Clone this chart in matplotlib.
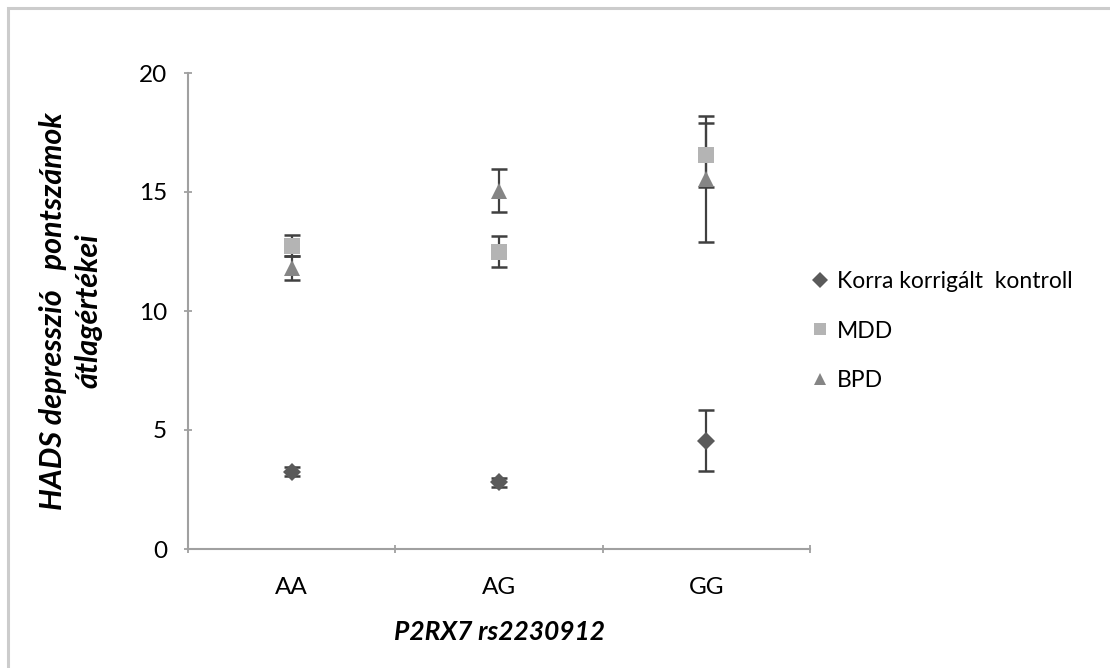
import matplotlib
matplotlib.use("Agg")
import matplotlib.pyplot as plt
from matplotlib.patches import Rectangle

categories = ["AA", "AG", "GG"]
series_names = ["Korra korrigált  kontroll", "MDD", "BPD"]
control_mean = [3.25, 2.8, 4.55]
control_err = [0.2, 0.2, 1.28]
mdd_mean = [12.75, 12.5, 16.55]
mdd_err = [0.45, 0.65, 1.35]
bpd_mean = [11.8, 15.05, 15.55]
bpd_err = [0.5, 0.9, 2.65]
yticks = [0, 5, 10, 15, 20]

font = ["Lato", "DejaVu Sans"]
plt.rcParams["font.family"] = font

fig = plt.figure(figsize=(11.10, 6.68), dpi=100)
W, H = 1110, 668
# outer frame
fig.patches.append(Rectangle((8 / W, -0.1), 1.2, (H - 8) / H + 0.1, transform=fig.transFigure,
                             fill=False, edgecolor="#cccccc", linewidth=2.2))

ax = fig.add_axes([188 / W, 1 - 549 / H, (810 - 188) / W, (549 - 73) / H])
ax.set_xlim(0, 3)
ax.set_ylim(0, 20)

x = [i + 0.5 for i in range(len(categories))]
specs = [
    (control_mean, control_err, "D", "#5a5a5a", 9),
    (mdd_mean, mdd_err, "s", "#b4b4b4", 11),
    (bpd_mean, bpd_err, "^", "#858585", 11),
]
handles = []
for (m, e, mk, c, ms), name in zip(specs, series_names):
    ax.errorbar(x, m, yerr=e, fmt="none", ecolor="#404040", elinewidth=1.6,
                capsize=6, capthick=1.8, zorder=2)
    h = ax.plot(x, m, linestyle="none", marker=mk, color=c, markersize=ms,
                markeredgewidth=0, label=name, zorder=3)[0]
    handles.append(h)

for s in ["top", "right"]:
    ax.spines[s].set_visible(False)
for s in ["left", "bottom"]:
    ax.spines[s].set_color("#a0a0a0")
    ax.spines[s].set_linewidth(1.5)

ax.set_yticks(yticks)
ax.set_yticklabels([str(v) for v in yticks], fontsize=17.5)
ax.set_xticks([0, 1, 2, 3])
ax.set_xticklabels([])
ax.set_xticks(x, minor=True)
ax.set_xticklabels(categories, minor=True, fontsize=17.5)
ax.tick_params(axis="x", which="major", length=6, direction="inout", color="#a0a0a0", width=1.3)
ax.tick_params(axis="x", which="minor", length=0, pad=20)
ax.tick_params(axis="y", length=6, direction="inout", color="#a0a0a0", width=1.3, pad=12)

ax.set_xlabel("P2RX7 rs2230912", fontsize=19, fontweight="bold", fontstyle="italic", labelpad=16)
ax.set_ylabel("HADS depresszió   pontszámok\nátlagértékei", fontsize=22, fontweight="bold",
              fontstyle="italic", labelpad=26, linespacing=1.35)

fig.legend(handles=handles, labels=series_names, loc="center left",
           bbox_to_anchor=(792 / W, 1 - 331 / H), frameon=False, fontsize=16.5,
           handlelength=0.6, handletextpad=0.45, labelspacing=1.25, markerscale=0.85)

fig.savefig("out.png", dpi=100)
